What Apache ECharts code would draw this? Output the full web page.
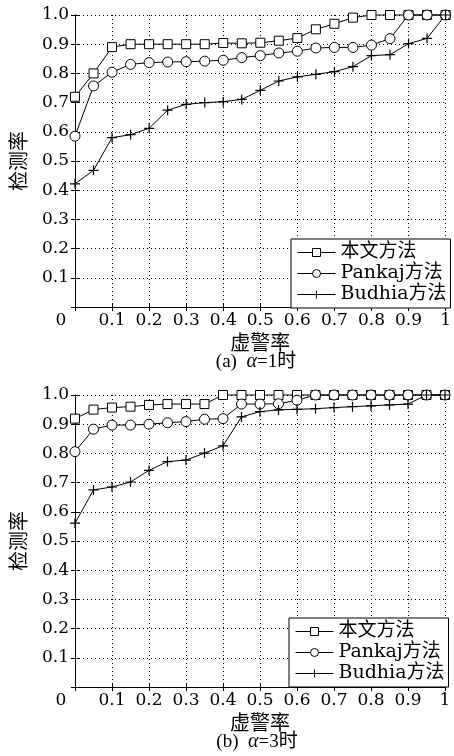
<!DOCTYPE html>
<html lang="zh">
<head>
<meta charset="UTF-8">
<title>检测率-虚警率</title>
<script src="https://cdn.jsdelivr.net/npm/echarts@6/dist/echarts.min.js"></script>
<style>
  html, body { margin: 0; padding: 0; background: #fff; }
  #main { width: 454px; height: 756px; }
</style>
</head>
<body>
<div id="main"></div>
<script>
  // 虚警率 (x)
  const falseAlarm = [0, 0.05, 0.1, 0.15, 0.2, 0.25, 0.3, 0.35, 0.4, 0.45, 0.5,
    0.55, 0.6, 0.65, 0.7, 0.75, 0.8, 0.85, 0.9, 0.95, 1]
  const methodNames = ['本文方法', 'Pankaj方法', 'Budhia方法']

  // (a) α=1
  const oursA = [0.72, 0.80, 0.89, 0.90, 0.90, 0.90, 0.90, 0.90, 0.904, 0.903, 0.905,
    0.912, 0.921, 0.951, 0.970, 0.991, 1.0, 1.0, 1.0, 1.0, 1.0]
  const pankajA = [0.585, 0.757, 0.804, 0.831, 0.837, 0.839, 0.840, 0.842, 0.845, 0.854, 0.861,
    0.870, 0.876, 0.887, 0.889, 0.889, 0.897, 0.919, 1.0, 1.0, 1.0]
  const budhiaA = [0.422, 0.468, 0.580, 0.590, 0.612, 0.674, 0.694, 0.700, 0.703, 0.711, 0.742,
    0.774, 0.788, 0.797, 0.806, 0.823, 0.861, 0.864, 0.902, 0.920, 1.0]

  // (b) α=3
  const oursB = [0.919, 0.950, 0.957, 0.960, 0.966, 0.969, 0.969, 0.969, 1.0, 1.0, 1.0,
    1.0, 1.0, 1.0, 1.0, 1.0, 1.0, 1.0, 1.0, 1.0, 1.0]
  const pankajB = [0.806, 0.883, 0.897, 0.897, 0.900, 0.905, 0.909, 0.917, 0.919, 0.969, 0.969,
    0.970, 0.982, 1.0, 1.0, 1.0, 1.0, 1.0, 1.0, 1.0, 1.0]
  const budhiaB = [0.561, 0.675, 0.685, 0.702, 0.742, 0.772, 0.777, 0.801, 0.826, 0.925, 0.943,
    0.949, 0.951, 0.953, 0.957, 0.960, 0.963, 0.966, 0.969, 1.0, 1.0]

  const serif = '"DejaVu Serif", "Noto Sans CJK SC"'
  const cjk = '"Noto Sans CJK SC"'
  const plusPath = 'path://M4.4,0H5.6V4.4H10V5.6H5.6V10H4.4V5.6H0V4.4H4.4Z'

  const chart = echarts.init(document.getElementById('main'))

  function pairs(ys) {
    return falseAlarm.map((x, i) => [x, ys[i]])
  }

  function xAxes(grid) {
    return [{
      type: 'value', gridIndex: grid, position: 'bottom', min: 0, max: 1, interval: 0.1,
      name: '虚警率', nameLocation: 'middle', nameGap: 25,
      nameTextStyle: { fontFamily: cjk, fontSize: 20, color: '#000' },
      axisLine: { lineStyle: { color: '#000', width: 1 } },
      axisTick: { inside: true, length: 4, lineStyle: { color: '#000' } },
      axisLabel: {
        margin: 5, color: '#000', fontFamily: serif, fontSize: 17,
        formatter: v => v === 0 ? '{z|0}' : (v >= 1 ? '1' : v.toFixed(1)),
        rich: { z: { fontFamily: serif, fontSize: 17, color: '#000', padding: [0, 28, 0, 0] } }
      },
      splitLine: { show: true, lineStyle: { color: '#000', width: 1, type: [1, 3] } }
    }, {
      type: 'value', gridIndex: grid, position: 'top', min: 0, max: 1, interval: 0.1,
      axisLine: { lineStyle: { color: '#000', width: 1 } },
      axisTick: { inside: true, length: 4, lineStyle: { color: '#000' } },
      axisLabel: { show: false }, splitLine: { show: false }
    }]
  }

  function yAxes(grid) {
    return [{
      type: 'value', gridIndex: grid, position: 'left', min: 0, max: 1, interval: 0.1,
      name: '检测率', nameLocation: 'middle', nameGap: 47, nameRotate: 90,
      nameTextStyle: { fontFamily: cjk, fontSize: 20, color: '#000' },
      axisLine: { lineStyle: { color: '#000', width: 1 } },
      axisTick: { inside: true, length: 4, lineStyle: { color: '#000' } },
      axisLabel: {
        margin: 6, color: '#000', fontFamily: serif, fontSize: 17,
        formatter: v => v === 0 ? '' : v.toFixed(1)
      },
      splitLine: { show: true, lineStyle: { color: '#000', width: 1, type: [1, 3] } }
    }, {
      type: 'value', gridIndex: grid, position: 'right', min: 0, max: 1, interval: 0.1,
      axisLine: { lineStyle: { color: '#000', width: 1 } },
      axisTick: { inside: true, length: 4, lineStyle: { color: '#000' } },
      axisLabel: { show: false }, splitLine: { show: false }
    }]
  }

  function lineSeries(name, ys, xi, yi, kind) {
    const s = {
      name: name, type: 'line', xAxisIndex: xi, yAxisIndex: yi,
      data: pairs(ys), clip: false, showSymbol: true,
      lineStyle: { color: '#000', width: 1 },
      emphasis: { disabled: true }
    }
    if (kind === 'rect') {
      s.symbol = 'rect'; s.symbolSize = 9
      s.itemStyle = { color: '#fff', borderColor: '#000', borderWidth: 1 }
    } else if (kind === 'circle') {
      s.symbol = 'circle'; s.symbolSize = 10
      s.itemStyle = { color: '#fff', borderColor: '#000', borderWidth: 1 }
    } else {
      s.symbol = plusPath; s.symbolSize = 10
      s.itemStyle = { color: '#000', borderWidth: 0 }
    }
    return s
  }

  function legendAt(left, top) {
    return {
      data: methodNames, orient: 'vertical', left: left, top: top,
      itemWidth: 38, itemHeight: 10, itemGap: 0, padding: [3, 4, 3, 6],
      backgroundColor: '#fff', borderColor: '#000', borderWidth: 1, borderRadius: 0,
      selectedMode: false,
      textStyle: { fontFamily: serif, fontSize: 19, color: '#000', lineHeight: 21 },
      itemStyle: { borderWidth: 1 },
      lineStyle: { width: 1, color: '#000' }
    }
  }

  const option = {
    animation: false,
    backgroundColor: '#fff',
    grid: [
      { left: 74, top: 15, width: 372, height: 292 },
      { left: 72, top: 395, width: 373, height: 292 }
    ],
    xAxis: [...xAxes(0), ...xAxes(1)],
    yAxis: [...yAxes(0), ...yAxes(1)],
    legend: [legendAt(291, 239), legendAt(289, 618)],
    series: [
      lineSeries(methodNames[0], oursA, 0, 0, 'rect'),
      lineSeries(methodNames[1], pankajA, 0, 0, 'circle'),
      lineSeries(methodNames[2], budhiaA, 0, 0, 'plus'),
      lineSeries(methodNames[0], oursB, 2, 2, 'rect'),
      lineSeries(methodNames[1], pankajB, 2, 2, 'circle'),
      lineSeries(methodNames[2], budhiaB, 2, 2, 'plus')
    ],
    graphic: [
      {
        type: 'text', x: 256, y: 362,
        style: {
          text: '(a)  {i|α}=1时', align: 'center', verticalAlign: 'middle',
          fontFamily: '"Liberation Serif", "Noto Sans CJK SC"', fontSize: 19, fill: '#000',
          rich: { i: { fontStyle: 'italic', fontFamily: '"Liberation Serif"', fontSize: 20 } }
        }
      },
      {
        type: 'text', x: 257, y: 742,
        style: {
          text: '(b)  {i|α}=3时', align: 'center', verticalAlign: 'middle',
          fontFamily: '"Liberation Serif", "Noto Sans CJK SC"', fontSize: 19, fill: '#000',
          rich: { i: { fontStyle: 'italic', fontFamily: '"Liberation Serif"', fontSize: 20 } }
        }
      }
    ]
  }

  chart.setOption(option)
</script>
</body>
</html>
